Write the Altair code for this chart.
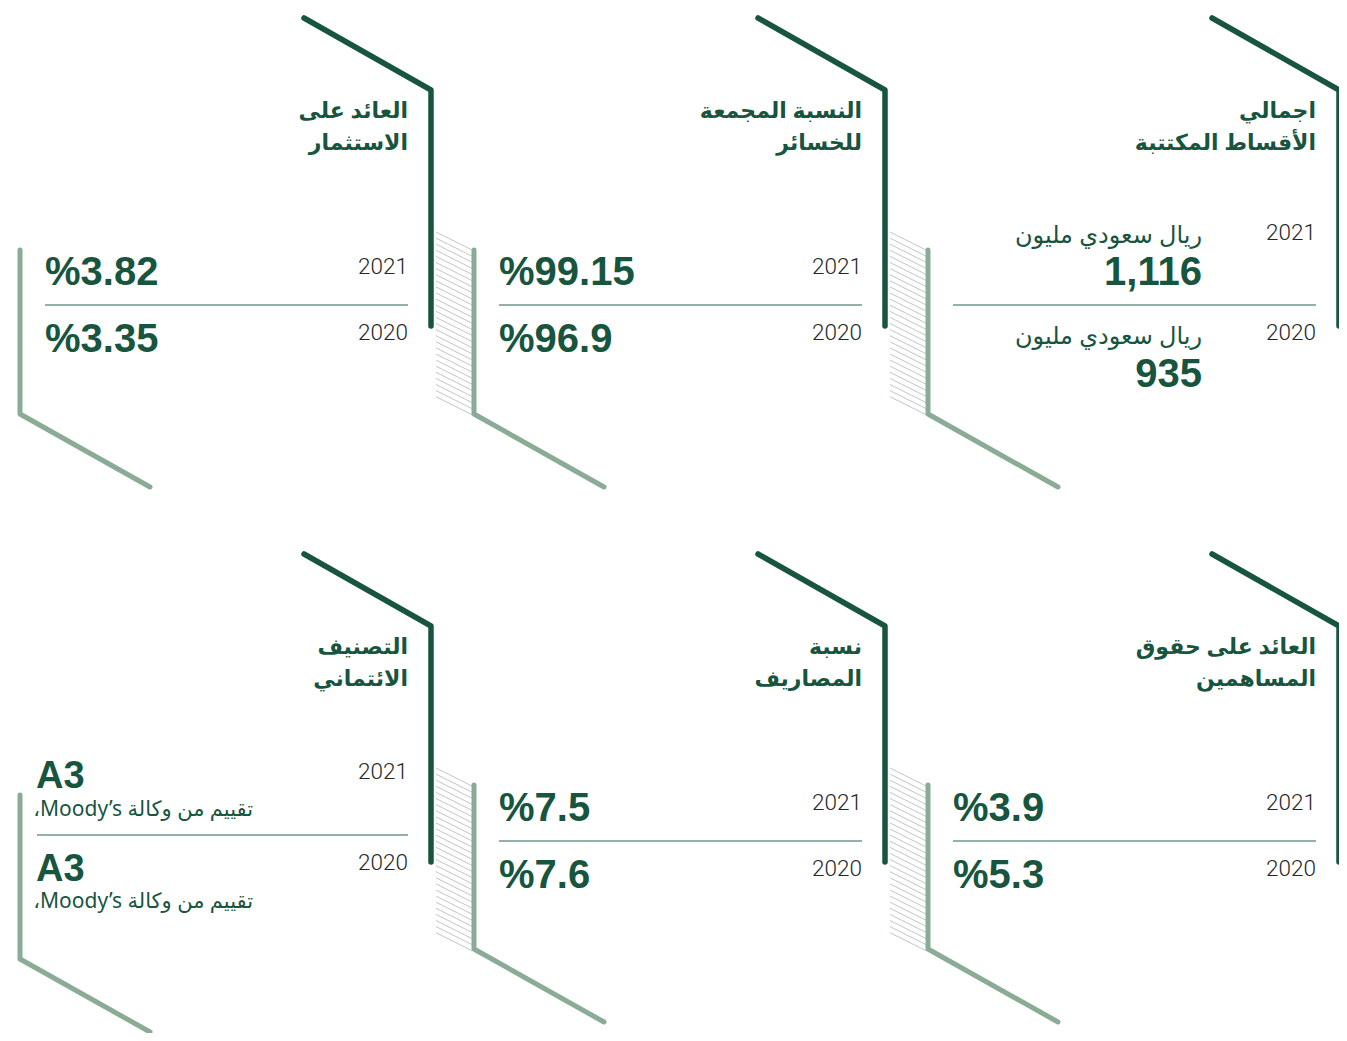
import altair as alt
import pandas as pd

# ---------------- data ----------------
titles_line1 = ["اجمالي", "النسبة المجمعة", "العائد على", "العائد على حقوق", "نسبة", "التصنيف"]
titles_line2 = ["الأقساط المكتتبة", "للخسائر", "الاستثمار", "المساهمين", "المصاريف", "الائتماني"]
years = ["2021", "2020"]
values_2021 = ["1,116", "%99.15", "%3.82", "%3.9", "%7.5", "A3"]
values_2020 = ["935", "%96.9", "%3.35", "%5.3", "%7.6", "A3"]
panel_kind = ["unit", "pct", "pct", "pct", "pct", "rating"]
unit_label = "ريال سعودي مليون"
rating_note = "\u202bتقييم من وكالة Moody’s،\u202c"

# ---------------- layout ----------------
panel_right = [1339, 885, 431, 1339, 885, 431]   # x of the dark vertical stroke
panel_top = [17, 17, 17, 553, 553, 553]          # top of the dark diagonal
light_top = [250, 250, 250, 785, 785, 795]
hatch_rows = [17, 553]
hatch_cols = [431, 885]
N_HATCH = 28

DARK = "#17553f"
LIGHT = "#8aab95"
HATCH = "#c0c8c3"
SEP = "#2c6550"
GREY = "#262626"
AR_FONT = "Noto Sans, DejaVu Sans"
NUM_FONT = "Liberation Sans"
YEAR_FONT = "Roboto"

# ---------------- geometry tables ----------------
dark_rows, light_rows, sep_rows = [], [], []
title_rows, year_rows = [], []
pct_rows, unitval_rows, unitlab_rows, a3_rows, note_rows = [], [], [], [], []

for i in range(6):
    R, T, lt, kind = panel_right[i], panel_top[i], light_top[i], panel_kind[i]
    for o, (x, y) in enumerate([(R - 127, T + 1), (R, T + 73), (R, T + 309)]):
        dark_rows.append({"g": i, "o": o, "x": x, "y": y})
    L = R - 411
    for o, (x, y) in enumerate([(L, lt), (L, lt + 164), (L + 130, lt + 237)]):
        light_rows.append({"g": i, "o": o, "x": x, "y": y})
    title_rows.append({"x": R - 23, "y": T + 101, "t": titles_line1[i]})
    title_rows.append({"x": R - 23, "y": T + 133, "t": titles_line2[i]})
    if kind == "pct":
        year_y = [T + 250, T + 316]
        sep_rows.append({"x": R - 386, "x2": R - 23, "y": T + 288})
        pct_rows.append({"x": R - 386, "y": T + 256, "t": values_2021[i]})
        pct_rows.append({"x": R - 386, "y": T + 323, "t": values_2020[i]})
    elif kind == "unit":
        year_y = [T + 216, T + 316]
        sep_rows.append({"x": R - 386, "x2": R - 23, "y": T + 288})
        unitlab_rows.append({"x": R - 137, "y": T + 219, "t": unit_label})
        unitlab_rows.append({"x": R - 137, "y": T + 320, "t": unit_label})
        unitval_rows.append({"x": R - 137, "y": T + 256, "t": values_2021[i]})
        unitval_rows.append({"x": R - 137, "y": T + 358, "t": values_2020[i]})
    else:
        year_y = [T + 219, T + 310]
        sep_rows.append({"x": R - 394, "x2": R - 23, "y": T + 282})
        a3_rows.append({"x": R - 395, "y": T + 224, "t": values_2021[i]})
        a3_rows.append({"x": R - 395, "y": T + 317, "t": values_2020[i]})
        note_rows.append({"x": R - 178, "y": T + 257, "t": rating_note})
        note_rows.append({"x": R - 178, "y": T + 349, "t": rating_note})
    for yy, yr in zip(year_y, years):
        year_rows.append({"x": R - 23, "y": yy, "t": yr})

hatch_list = []
for T in hatch_rows:
    for R in hatch_cols:
        for k in range(N_HATCH):
            yl = T + 215 + k * 6.1
            hatch_list.append({"x": R + 5, "y": yl, "x2": R + 41, "y2": yl + 18})

X = alt.X("x:Q", scale=alt.Scale(domain=[8, 1339], nice=False, zero=False), axis=None)
Y = alt.Y("y:Q", scale=alt.Scale(domain=[8, 1033], nice=False, zero=False, reverse=True), axis=None)

hatch = alt.Chart(pd.DataFrame(hatch_list)).mark_rule(color=HATCH, strokeWidth=1).encode(
    x=X, y=Y, x2="x2:Q", y2="y2:Q")

dark = alt.Chart(pd.DataFrame(dark_rows)).mark_line(
    color=DARK, strokeWidth=5.5, strokeCap="round", strokeJoin="round").encode(
    x=X, y=Y, detail="g:N", order="o:Q")

light = alt.Chart(pd.DataFrame(light_rows)).mark_line(
    color=LIGHT, strokeWidth=5, strokeCap="round", strokeJoin="round").encode(
    x=X, y=Y, detail="g:N", order="o:Q")

seps = alt.Chart(pd.DataFrame(sep_rows)).mark_rule(color=SEP, strokeWidth=1).encode(
    x=X, x2="x2:Q", y=Y)

titles = alt.Chart(pd.DataFrame(title_rows)).mark_text(
    align="right", baseline="alphabetic", font=AR_FONT, fontSize=22, fontWeight="bold", color=DARK
).encode(x=X, y=Y, text="t:N")

yrs = alt.Chart(pd.DataFrame(year_rows)).mark_text(
    align="right", baseline="middle", font=YEAR_FONT, fontSize=22.5, fontWeight=300, color=GREY
).encode(x=X, y=Y, text="t:N")

pcts = alt.Chart(pd.DataFrame(pct_rows)).mark_text(
    align="left", baseline="middle", font=NUM_FONT, fontSize=40, fontWeight="bold", color=DARK
).encode(x=X, y=Y, text="t:N")

unitvals = alt.Chart(pd.DataFrame(unitval_rows)).mark_text(
    align="right", baseline="middle", font=NUM_FONT, fontSize=40, fontWeight="bold", color=DARK
).encode(x=X, y=Y, text="t:N")

unitlabs = alt.Chart(pd.DataFrame(unitlab_rows)).mark_text(
    align="right", baseline="middle", font=AR_FONT, fontSize=24, color=DARK
).encode(x=X, y=Y, text="t:N")

a3 = alt.Chart(pd.DataFrame(a3_rows)).mark_text(
    align="left", baseline="middle", font=NUM_FONT, fontSize=38, fontWeight="bold", color=DARK
).encode(x=X, y=Y, text="t:N")

notes = alt.Chart(pd.DataFrame(note_rows)).mark_text(
    align="right", baseline="middle", font=AR_FONT, fontSize=21, color=DARK
).encode(x=X, y=Y, text="t:N")

chart = alt.layer(hatch, dark, light, seps, titles, yrs, pcts, unitvals, unitlabs, a3, notes).properties(
    width=1331, height=1025, padding=0, autosize=alt.AutoSizeParams(type="none")
).configure_view(stroke=None)

chart.save("out.html", embed_options={"renderer": "svg", "actions": False})
